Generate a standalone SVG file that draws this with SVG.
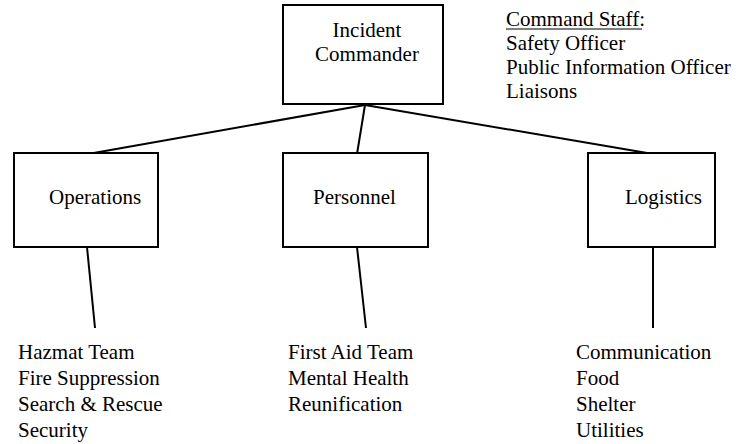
<svg xmlns="http://www.w3.org/2000/svg" width="736" height="444" viewBox="0 0 736 444">
<rect width="736" height="444" fill="#fff"/>
<line x1="365" y1="105" x2="88" y2="154" stroke="#000" stroke-width="2"/>
<line x1="365" y1="105" x2="357" y2="154" stroke="#000" stroke-width="2"/>
<line x1="365" y1="105" x2="653" y2="154" stroke="#000" stroke-width="2"/>
<line x1="87" y1="247" x2="95" y2="328" stroke="#000" stroke-width="2"/>
<line x1="357" y1="247" x2="366" y2="328" stroke="#000" stroke-width="2"/>
<line x1="653" y1="247" x2="653" y2="328" stroke="#000" stroke-width="2"/>
<g id="incident-commander">
<rect x="283" y="5" width="160" height="99" fill="#fff" stroke="#000" stroke-width="2"/>
<text x="367" y="37" text-anchor="middle" font-size="21" font-family="Liberation Serif">Incident</text>
<text x="367" y="61" text-anchor="middle" font-size="21" font-family="Liberation Serif">Commander</text>
</g>
<text x="506" y="26" font-size="21" font-family="Liberation Serif">Command Staff:</text>
<line x1="506" y1="29" x2="642" y2="29" stroke="#000" stroke-width="1.2"/>
<text x="506" y="50" font-size="21" font-family="Liberation Serif">Safety Officer</text>
<text x="506" y="74" font-size="21" font-family="Liberation Serif">Public Information Officer</text>
<text x="506" y="98" font-size="21" font-family="Liberation Serif">Liaisons</text>
<rect x="14" y="153" width="144" height="94" fill="#fff" stroke="#000" stroke-width="2"/>
<text x="49" y="204" font-size="21" font-family="Liberation Serif">Operations</text>
<rect x="283" y="153" width="145" height="94" fill="#fff" stroke="#000" stroke-width="2"/>
<text x="313" y="204" font-size="21" font-family="Liberation Serif">Personnel</text>
<rect x="588" y="153" width="127" height="94" fill="#fff" stroke="#000" stroke-width="2"/>
<text x="625" y="204" font-size="21" font-family="Times New Roman">Logistics</text>
<text x="18" y="359" font-size="21" font-family="Liberation Serif">Hazmat Team</text>
<text x="18" y="385" font-size="21" font-family="Liberation Serif">Fire Suppression</text>
<text x="18" y="411" font-size="21" font-family="Liberation Serif">Search &amp; Rescue</text>
<text x="18" y="437" font-size="21" font-family="Liberation Serif">Security</text>
<text x="288" y="359" font-size="21" font-family="Liberation Serif">First Aid Team</text>
<text x="288" y="385" font-size="21" font-family="Liberation Serif">Mental Health</text>
<text x="288" y="411" font-size="21" font-family="Liberation Serif">Reunification</text>
<text x="576" y="359" font-size="21" font-family="Liberation Serif">Communication</text>
<text x="576" y="385" font-size="21" font-family="Liberation Serif">Food</text>
<text x="576" y="411" font-size="21" font-family="Liberation Serif">Shelter</text>
<text x="576" y="437" font-size="21" font-family="Liberation Serif">Utilities</text>
</svg>
